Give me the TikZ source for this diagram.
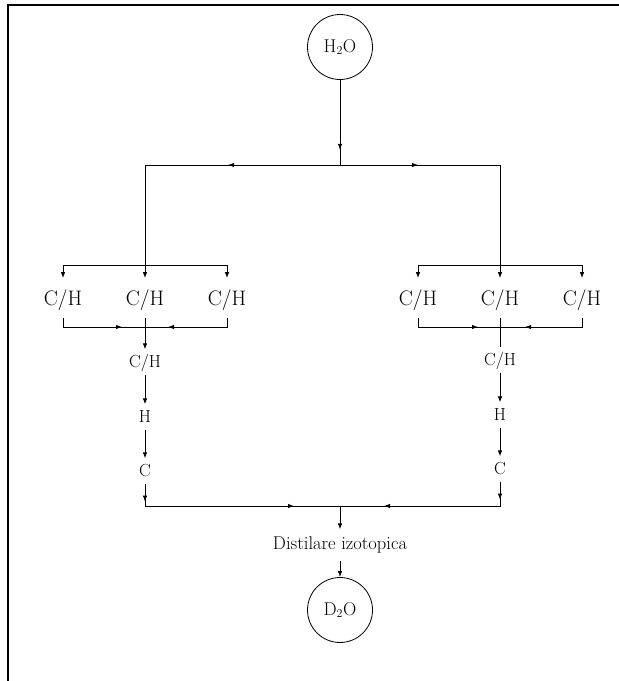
\documentclass[tikz,border=0pt]{standalone}
\usepackage{fontspec}
\usepackage{tikz}
\usetikzlibrary{arrows.meta,decorations.markings}

\begin{document}
\begin{tikzpicture}[
    x=1pt, y=-1pt,
    line width=0.8pt,
    tank/.style={draw, circle, minimum size=65pt, inner sep=0pt, font=\fontsize{18.5}{20}\selectfont},
    bigstage/.style={inner xsep=0pt, inner ysep=12pt, text height=15pt, text depth=0pt, font=\fontsize{21}{23}\selectfont},
    smallstage/.style={inner xsep=0pt, inner ysep=6.5pt, text height=11.5pt, text depth=0pt, font=\fontsize{17.5}{19}\selectfont},
    procstage/.style={inner xsep=0pt, inner ysep=7.5pt, text height=12.5pt, text depth=3pt, font=\fontsize{18.5}{20}\selectfont},
    arrow/.style={-{Latex[length=6pt,width=4.5pt]}},
    midarrow/.style={postaction={decorate, decoration={markings, mark=at position #1 with {\arrow{Latex[length=6pt,width=4.5pt]}}}}}
]
\useasboundingbox (0,0) rectangle (619,681);
\draw[line width=1.2pt] (8,681) -- (8,5) -- (619,5);

\node[tank] (h2o) at (340,47) {H$_2$O};
\coordinate (split) at (340,165);

\node[bigstage] (lc1) at (63,298) {C/H};
\node[bigstage] (lc2) at (145,298) {C/H};
\node[bigstage] (lc3) at (227,298) {C/H};
\coordinate (lbr) at (145,265);
\coordinate (lcol) at (145,327);
\node[smallstage] (lch) at (145,362) {C/H};
\node[smallstage] (lh) at (145,417) {H};
\node[smallstage] (lcc) at (145,471) {C};

\node[bigstage] (rc1) at (418,298) {C/H};
\node[bigstage] (rc2) at (500,298) {C/H};
\node[bigstage] (rc3) at (582,298) {C/H};
\coordinate (rbr) at (500,265);
\coordinate (rcol) at (500,327);
\node[smallstage] (rch) at (500,360) {C/H};
\node[smallstage] (rh) at (500,415) {H};
\node[smallstage] (rcc) at (500,469) {C};

\coordinate (merge) at (340,506);
\node[procstage] (dist) at (340,545) {Distilare izotopica};
\node[tank] (d2o) at (340,610) {D$_2$O};

\draw[midarrow=70pt] (h2o) -- (split);
\draw[arrow, midarrow=112pt] (split) -| (lc2.north);
\draw[arrow, midarrow=78pt] (split) -| (rc2.north);

\draw[arrow] (lbr) -| (lc1.north);
\draw[arrow] (lbr) -| (lc3.north);
\draw[midarrow=-23pt] (lc1.south) |- (lcol);
\draw[midarrow=-23pt] (lc3.south) |- (lcol);
\draw[arrow] (lc2.south) -- (lch.north);
\draw[arrow] (lch) -- (lh.north);
\draw[arrow] (lh) -- (lcc.north);

\draw[arrow] (rbr) -| (rc1.north);
\draw[arrow] (rbr) -| (rc3.north);
\draw[midarrow=-22pt] (rc1.south) |- (rcol);
\draw[midarrow=-25pt] (rc3.south) |- (rcol);
\draw (rc2.south) -- (rch.north);
\draw[arrow] (rch) -- (rh.north);
\draw[arrow] (rh) -- (rcc.north);

\draw[midarrow=18pt, midarrow=-46pt] (lcc.south) |- (merge);
\draw[midarrow=18pt, midarrow=-44pt] (rcc.south) |- (merge);
\draw[arrow] (merge) -- (dist.north);
\draw[arrow] (dist) -- (d2o);
\end{tikzpicture}
\end{document}
